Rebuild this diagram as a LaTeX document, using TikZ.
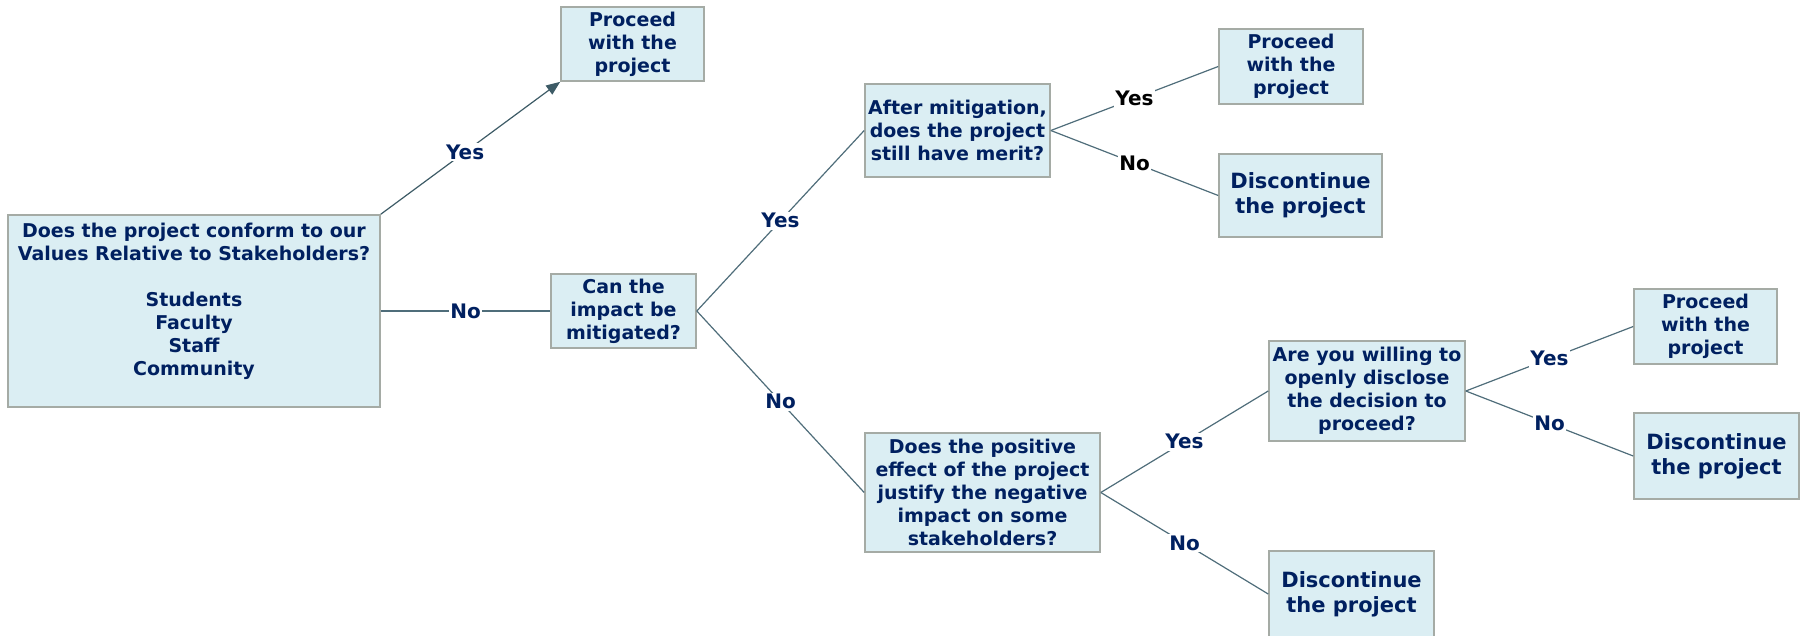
\documentclass[tikz,border=0pt]{standalone}
\usepackage{fontspec}
\setmainfont{DejaVu Sans}
\usetikzlibrary{arrows.meta}
\definecolor{boxfill}{HTML}{DBEEF3}
\definecolor{boxline}{HTML}{A5ABA5}
\definecolor{navy}{HTML}{002060}
\definecolor{conn}{HTML}{4F6D7A}
\definecolor{tipc}{HTML}{3D5B66}
\tikzset{
  qbox/.style={draw=boxline, fill=boxfill, line width=1.6pt, text=navy, align=center,
    font=\bfseries\fontsize{19}{23}\selectfont, inner sep=0pt},
  dbox/.style={qbox, font=\bfseries\fontsize{21}{25}\selectfont},
  qtext/.style={text=navy, align=center, font=\bfseries\fontsize{19}{23}\selectfont, inner sep=0pt},
  conn/.style={draw=conn, line width=1.2pt},
  lab/.style={fill=white, text=navy, font=\bfseries\fontsize{20}{24}\selectfont, inner sep=1.5pt},
  blab/.style={lab, text=black},
}
\begin{document}
\begin{tikzpicture}[x=1pt,y=-1pt]
\useasboundingbox (0,0) rectangle (1806,635);
% boxes
\node[qbox, minimum width=372pt, minimum height=192pt] (q1) at (194,311) {};
\node[qtext] (q1t) at (194,301) {Does the project conform to our\\Values Relative to Stakeholders?\\[23pt]Students\\Faculty\\Staff\\Community};
\node[qbox, minimum width=143pt, minimum height=74pt] (p1) at (632.5,44) {Proceed\\with the\\project};
\node[qbox, minimum width=145pt, minimum height=74pt] (can) at (623.5,311) {Can the\\impact be\\mitigated?};
\node[qbox, minimum width=185pt, minimum height=93pt] (aft) at (957.5,130.5) {After mitigation,\\does the project\\still have merit?};
\node[qbox, minimum width=144pt, minimum height=75pt] (p2) at (1291,66.5) {Proceed\\with the\\project};
\node[dbox, minimum width=163pt, minimum height=83pt] (d1) at (1300.5,195.5) {Discontinue\\the project};
\node[qbox, minimum width=235pt, minimum height=119pt] (pos) at (982.5,492.5) {Does the positive\\effect of the project\\justify the negative\\impact on some\\stakeholders?};
\node[qbox, minimum width=196pt, minimum height=100pt] (are) at (1367,391) {Are you willing to\\openly disclose\\the decision to\\proceed?};
\node[qbox, minimum width=143pt, minimum height=75pt] (p3) at (1705.5,326.5) {Proceed\\with the\\project};
\node[dbox, minimum width=165pt, minimum height=86pt] (d2) at (1716.5,456) {Discontinue\\the project};
\node[dbox, minimum width=165pt, minimum height=86pt] (d3) at (1351.5,594) {Discontinue\\the project};
% connectors
\draw[conn, -{Triangle[length=14pt,width=11pt]}, tipc] (q1.north east) -- node[lab, pos=0.47] {Yes} (p1.south west);
\draw[conn] (q1.east) -- node[lab] {No} (can.west);
\draw[conn] (can.east) -- node[lab] {Yes} (aft.west);
\draw[conn] (can.east) -- node[lab] {No} (pos.west);
\draw[conn] (aft.east) -- node[blab] {Yes} (p2.west);
\draw[conn] (aft.east) -- node[blab] {No} (d1.west);
\draw[conn] (pos.east) -- node[lab] {Yes} (are.west);
\draw[conn] (pos.east) -- node[lab] {No} (d3.west);
\draw[conn] (are.east) -- node[lab] {Yes} (p3.west);
\draw[conn] (are.east) -- node[lab] {No} (d2.west);
\end{tikzpicture}
\end{document}
